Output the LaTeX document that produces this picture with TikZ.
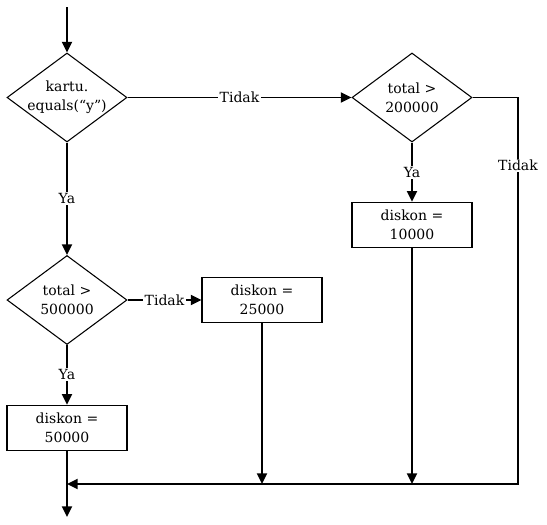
\documentclass[tikz,border=0pt]{standalone}
\usepackage{fontspec}
\setmainfont{DejaVu Serif}
\usetikzlibrary{shapes.geometric,arrows.meta,positioning,calc}

\begin{document}
\begin{tikzpicture}[x=0.75pt, y=-0.75pt,
    every node/.style={font=\fontsize{10.5}{14.25}\selectfont},
    decision/.style={draw, diamond, aspect=1.35, inner sep=-1pt, minimum width=90pt, minimum height=66.75pt, align=center, line width=0.8pt},
    process/.style={draw, rectangle, minimum width=90pt, minimum height=34pt, inner sep=0pt, align=center, line width=0.8pt},
    flow/.style={line width=1.4pt, -{Triangle[length=8pt, width=7.5pt]}},
    plain/.style={line width=1.4pt},
    lbl/.style={fill=white, inner sep=1pt}]
  \useasboundingbox (0,0) rectangle (547,525);
  % Flowchart of the discount rule: card holder check, then the total thresholds.
  \node[decision] (kartu) at (67, 97.5) {kartu.\\equals(“y”)};
  \node[decision] (total2) at (412, 97.5) {total >\\200000};
  \node[decision] (total5) at (67, 300) {total >\\500000};
  \node[process] (diskon10) at (412, 225) {diskon =\\10000};
  \node[process] (diskon25) at (262, 300) {diskon =\\25000};
  \node[process] (diskon50) at (67, 428) {diskon =\\50000};
  % Free ends and the bends of the joining line
  \coordinate (start) at (67, 7);
  \coordinate (finish) at (67, 517);
  \coordinate (corner) at (518, 97.5);
  \coordinate (join) at (518, 484);
  \coordinate (merge) at (67, 484);
  % Connectors
  \draw[flow] (start) -- (kartu);
  \draw[flow] (kartu) -- node[lbl] {Tidak} (total2);
  \draw[flow] (kartu) -- node[lbl] {Ya} (total5);
  \draw[flow] (total2) -- node[lbl] {Ya} (diskon10);
  \draw[flow] (total5) -- node[lbl] {Tidak} (diskon25);
  \draw[flow] (total5) -- node[lbl] {Ya} (diskon50);
  \draw[flow] (total2.east) -- (corner) -- node[lbl, pos=0.176] {Tidak} (join) -- (merge);
  \draw[flow] (diskon10) -- (diskon10 |- merge);
  \draw[flow] (diskon25) -- (diskon25 |- merge);
  \draw[flow] (diskon50) -- (finish);
\end{tikzpicture}
\end{document}
